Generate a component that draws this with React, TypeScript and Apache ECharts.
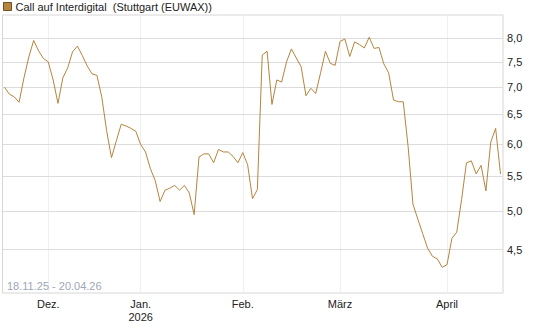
import React, { useEffect, useRef } from "react";
import * as echarts from "echarts";

const seriesName = "Call auf Interdigital  (Stuttgart (EUWAX))";
const rangeText = "18.11.25 - 20.04.26";

const firstDay = "2025-11-18";
const lastDay = "2026-04-20";
const closedDays = ["2025-12-24", "2025-12-25", "2025-12-26", "2025-12-31", "2026-01-01", "2026-04-03", "2026-04-06"];

const prices = [
  7.0, 6.87, 6.82, 6.72, 7.18, 7.6, 7.95, 7.73, 7.57, 7.5,
  7.14, 6.7, 7.18, 7.38, 7.71, 7.83, 7.63, 7.42, 7.26, 7.23,
  6.82, 6.22, 5.78, 6.05, 6.33, 6.3, 6.26, 6.21, 5.99, 5.87,
  5.61, 5.43, 5.13, 5.29, 5.32, 5.36, 5.29, 5.36, 5.25, 4.95,
  5.79, 5.84, 5.84, 5.7, 5.91, 5.87, 5.87, 5.8, 5.7, 5.86,
  5.67, 5.17, 5.3, 7.64, 7.72, 6.68, 7.14, 7.1, 7.5, 7.77,
  7.58, 7.4, 6.84, 6.98, 6.88, 7.28, 7.72, 7.47, 7.43, 7.93,
  7.98, 7.61, 7.92, 7.86, 7.79, 8.02, 7.78, 7.8, 7.46, 7.28,
  6.76, 6.73, 6.73, 5.96, 5.09, 4.89, 4.7, 4.52, 4.42, 4.39,
  4.29, 4.32, 4.64, 4.72, 5.16, 5.7, 5.73, 5.53, 5.66, 5.28,
  6.03, 6.26, 5.53,
];

const xTickDates = ["01.12.25", "02.01.26", "02.02.26", "02.03.26", "01.04.26"];
const xTickLabels = ["Dez.", "Jan.\n2026", "Feb.", "März", "April"];

const yTicks = [4.5, 5.0, 5.5, 6.0, 6.5, 7.0, 7.5, 8.0];
const yMin = 4.0;
const yMax = 8.52;

function tradingDays(): string[] {
  const out: string[] = [];
  const [sy, sm, sd] = firstDay.split("-").map(Number);
  const [ey, em, ed] = lastDay.split("-").map(Number);
  let t = Date.UTC(sy, sm - 1, sd);
  const end = Date.UTC(ey, em - 1, ed);
  while (t <= end) {
    const d = new Date(t);
    const wd = d.getUTCDay();
    const iso = d.toISOString().slice(0, 10);
    if (wd !== 0 && wd !== 6 && !closedDays.includes(iso)) {
      const dd = String(d.getUTCDate()).padStart(2, "0");
      const mm = String(d.getUTCMonth() + 1).padStart(2, "0");
      const yy = String(d.getUTCFullYear()).slice(2);
      out.push(`${dd}.${mm}.${yy}`);
    }
    t += 86400000;
  }
  return out;
}

const FONT = "Liberation Sans, Arial, sans-serif";

export default function App() {
  const ref = useRef<HTMLDivElement>(null);
  useEffect(() => {
    if (!ref.current) return;
    const chart = echarts.init(ref.current, null, { renderer: "svg" });
    const dates = tradingDays();
    const isTick = (_i: number, v: string) => xTickDates.includes(v);
    chart.setOption({
      animation: false,
      title: {
        text: rangeText,
        left: 7,
        top: 280,
        textStyle: { fontSize: 11, fontWeight: "normal", color: "#9ea6b6", fontFamily: FONT },
        padding: 0,
      },
      legend: {
        data: [seriesName],
        left: 3,
        top: 1,
        padding: 0,
        icon: "rect",
        itemWidth: 8,
        itemHeight: 8,
        itemGap: 5,
        itemStyle: { borderColor: "#6e5024", borderWidth: 1 },
        textStyle: { fontSize: 11, color: "#222", fontFamily: FONT, padding: [0, 0, 0, -1] },
        selectedMode: false,
      },
      grid: [
        { left: 4.5, right: 44.5, top: 15, bottom: 34, show: false },
        { left: 2.5, right: 42, top: 15, bottom: 34, show: true, borderColor: "#d6d6d6", borderWidth: 1, backgroundColor: "transparent" },
      ],
      xAxis: [
        {
          type: "category",
          gridIndex: 0,
          data: dates,
          boundaryGap: false,
          axisLine: { show: false },
          axisTick: { show: false },
          axisLabel: {
            interval: isTick,
            formatter: (v: string) => {
              const k = xTickDates.indexOf(v);
              return k >= 0 ? xTickLabels[k] : "";
            },
            color: "#222",
            fontSize: 11,
            fontFamily: FONT,
            margin: 4,
            lineHeight: 13,
          },
          splitLine: { show: true, interval: isTick, lineStyle: { color: "#efefef", width: 1 } },
        },
        { type: "value", gridIndex: 1, min: 0, max: 1, show: false },
      ],
      yAxis: [
        {
          type: "log",
          gridIndex: 0,
          min: yMin,
          max: yMax,
          show: false,
          splitLine: { show: false },
        },
        {
          type: "log",
          gridIndex: 1,
          min: yMin,
          max: yMax,
          position: "right",
          axisLine: { show: false },
          axisTick: { show: false },
          axisLabel: { show: false },
          splitLine: { show: false },
        },
      ],
      series: [
        {
          name: seriesName,
          type: "line",
          xAxisIndex: 0,
          yAxisIndex: 0,
          data: prices,
          symbol: "none",
          color: "#b5843d",
          lineStyle: { color: "#b5843d", width: 1 },
          z: 5,
        },
        {
          name: "grid",
          type: "line",
          xAxisIndex: 1,
          yAxisIndex: 1,
          data: [],
          symbol: "none",
          z: 1,
          markLine: {
            silent: true,
            symbol: ["none", "none"],
            lineStyle: { color: "#dcdcdc", type: "solid", width: 1 },
            label: {
              show: true,
              position: "end",
              distance: 4,
              color: "#222",
              fontSize: 11,
              fontFamily: FONT,
              formatter: (p: any) => Number(p.value).toFixed(1).replace(".", ","),
            },
            data: yTicks.map((v) => ({ yAxis: v })),
          },
        },
      ],
    });
    return () => chart.dispose();
  }, []);
  return <div ref={ref} style={{ width: 545, height: 327, position: "absolute", left: 0, top: 0 }} />;
}
